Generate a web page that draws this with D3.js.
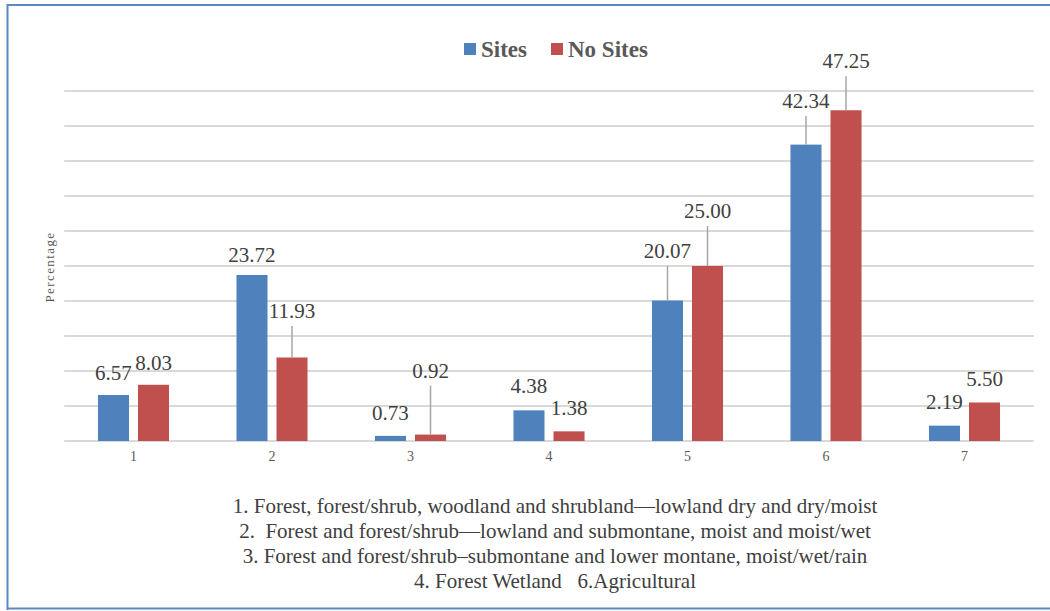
<!DOCTYPE html>
<html>
<head>
<meta charset="utf-8">
<script src="https://cdn.jsdelivr.net/npm/d3@7"></script>
<style>
  html, body { margin: 0; padding: 0; background: #fff; }
  svg { display: block; }
</style>
</head>
<body>
<svg id="chart" width="1050" height="611"></svg>
<script>
// ---- data ----
const categories = ["1", "2", "3", "4", "5", "6", "7"];
const seriesNames = ["Sites", "No Sites"];
const sitesValues = [6.57, 23.72, 0.73, 4.38, 20.07, 42.34, 2.19];
const noSitesValues = [8.03, 11.93, 0.92, 1.38, 25.00, 47.25, 5.50];
const yTicks = [0, 5, 10, 15, 20, 25, 30, 35, 40, 45, 50];
const footnotes = [
  "1. Forest, forest/shrub, woodland and shrubland\u2014lowland dry and dry/moist",
  "2.  Forest and forest/shrub\u2014lowland and submontane, moist and moist/wet",
  "3. Forest and forest/shrub\u2013submontane and lower montane, moist/wet/rain",
  "4. Forest Wetland   6.Agricultural"
];
const yTitle = "Percentage";

// ---- label layout (pixels above bar top, leader line flag) ----
const sitesLabelLift = [15, 13, 16, 17, 42.5, 36.6, 16.7];
const sitesLeader = [false, false, false, false, true, true, false];
const noSitesLabelLift = [15, 39.5, 57, 16, 48, 42, 16.5];
const noSitesLeader = [false, true, true, false, true, true, false];

const colors = ["#4f81bd", "#c0504d"];
const SERIF = "font-family: 'Liberation Serif', 'Times New Roman', Times, 'DejaVu Serif', serif;";

const svg = d3.select("#chart");

// border
const border = svg.append("g");
border.append("line").attr("x1", 7.5).attr("x2", 1050).attr("y1", 5).attr("y2", 5)
  .attr("stroke", "#5b87c5").attr("stroke-width", 2);
border.append("line").attr("x1", 7.5).attr("x2", 7.5).attr("y1", 4).attr("y2", 610)
  .attr("stroke", "#5b87c5").attr("stroke-width", 2);
border.append("line").attr("x1", 7.5).attr("x2", 1050).attr("y1", 608.5).attr("y2", 608.5)
  .attr("stroke", "#5b87c5").attr("stroke-width", 2);

const plotLeft = 64.25, plotRight = 1033.75, plotTop = 91, plotBottom = 441;

const x0 = d3.scaleBand().domain(categories).range([plotLeft, plotRight])
  .paddingInner(0.487).paddingOuter(0.2435);
const x1 = d3.scaleBand().domain(seriesNames).range([0, x0.bandwidth()])
  .paddingInner(0.225).paddingOuter(0);
const y = d3.scaleLinear().domain([0, 50]).range([plotBottom, plotTop]);

// gridlines
svg.append("g").selectAll("line").data(yTicks).join("line")
  .attr("x1", plotLeft).attr("x2", plotRight)
  .attr("y1", d => y(d)).attr("y2", d => y(d))
  .attr("stroke", "#d9d9d9").attr("stroke-width", 2);

// x axis labels
const xAxis = d3.axisBottom(x0).tickSize(0).tickPadding(10);
const xg = svg.append("g").attr("transform", `translate(0,${plotBottom})`).call(xAxis);
xg.select(".domain").remove();
xg.attr("font-family", null).attr("font-size", null);
xg.selectAll("text").attr("style", SERIF + " font-size:14px; fill:#595959;").attr("dy", "0.71em");

// bars
const rows = categories.map((c, i) => ({
  cat: c,
  vals: [
    { s: seriesNames[0], v: sitesValues[i], lift: sitesLabelLift[i], leader: sitesLeader[i], k: 0 },
    { s: seriesNames[1], v: noSitesValues[i], lift: noSitesLabelLift[i], leader: noSitesLeader[i], k: 1 }
  ]
}));

const groups = svg.append("g").selectAll("g").data(rows).join("g")
  .attr("transform", d => `translate(${x0(d.cat)},0)`);

groups.selectAll("rect").data(d => d.vals).join("rect")
  .attr("x", d => x1(d.s)).attr("width", x1.bandwidth())
  .attr("y", d => y(d.v)).attr("height", d => y(0) - y(d.v))
  .attr("fill", d => colors[d.k]);

// leader lines
groups.selectAll("line.leader").data(d => d.vals.filter(v => v.leader)).join("line")
  .attr("class", "leader")
  .attr("x1", d => x1(d.s) + x1.bandwidth() / 2).attr("x2", d => x1(d.s) + x1.bandwidth() / 2)
  .attr("y1", d => y(d.v) - d.lift + 8).attr("y2", d => y(d.v))
  .attr("stroke", "#a6a6a6").attr("stroke-width", 1.5);

// value labels
groups.selectAll("text.val").data(d => d.vals).join("text")
  .attr("class", "val")
  .attr("x", d => x1(d.s) + x1.bandwidth() / 2)
  .attr("y", d => y(d.v) - d.lift)
  .attr("text-anchor", "middle")
  .attr("style", SERIF + " font-size:21px; fill:#404040;")
  .text(d => d.v.toFixed(2));

// y title
svg.append("text")
  .attr("transform", "translate(54,267) rotate(-90)")
  .attr("text-anchor", "middle")
  .attr("style", SERIF + " font-size:13px; letter-spacing:1.4px; fill:#595959;")
  .text(yTitle);

// legend
const legendItems = [
  { name: seriesNames[0], x: 464 },
  { name: seriesNames[1], x: 551 }
];
const lg = svg.append("g").selectAll("g").data(legendItems).join("g");
lg.append("rect").attr("x", d => d.x).attr("y", 43).attr("width", 12).attr("height", 12)
  .attr("fill", (d, i) => colors[i]);
lg.append("text").attr("x", d => d.x + 17).attr("y", 57)
  .attr("style", SERIF + " font-size:23px; font-weight:bold; fill:#595959;")
  .text(d => d.name);

// footnotes
svg.append("g").selectAll("text").data(footnotes).join("text")
  .attr("x", 555).attr("y", (d, i) => 513 + i * 25)
  .attr("text-anchor", "middle")
  .attr("style", SERIF + " font-size:21px; fill:#404040; white-space:pre;")
  .text(d => d);
</script>
</body>
</html>
